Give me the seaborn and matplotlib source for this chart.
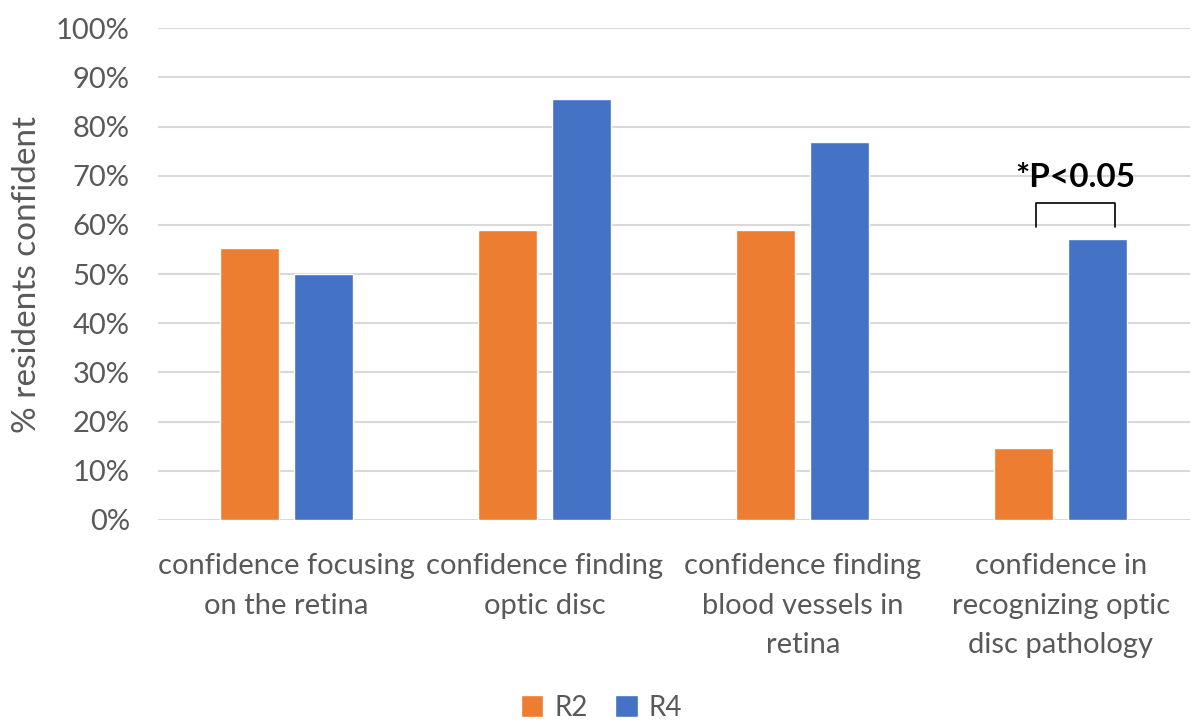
import pandas as pd
import matplotlib.pyplot as plt
import seaborn as sns
from matplotlib.ticker import PercentFormatter, MultipleLocator
from matplotlib.patches import Patch

# Values
categories = ['confidence focusing\non the retina',
              'confidence finding\noptic disc',
              'confidence finding\nblood vessels in\nretina',
              'confidence in\nrecognizing optic\ndisc pathology']
r2_values = [0.553, 0.589, 0.590, 0.147]
r4_values = [0.500, 0.856, 0.768, 0.571]
groups = ['R2', 'R4']
colors = ['#ED7D31', '#4472C4']

df = pd.DataFrame({
    'category': categories * 2,
    'group': ['R2'] * 4 + ['R4'] * 4,
    'value': r2_values + r4_values,
})

sns.set_style('white')
plt.rcParams['font.family'] = ['Lato', 'DejaVu Sans']
text_gray = '#595959'

fig = plt.figure(figsize=(12.03, 7.25), dpi=100)
ax = fig.add_axes([0.131, 0.283, 0.858, 0.678])

sns.barplot(data=df, x='category', y='value', hue='group', palette=colors,
            width=0.574, gap=0.2, ax=ax, legend=False, saturation=1)

ax.set_ylim(0, 1.0)
ax.set_xlim(-0.5, 3.5)
ax.yaxis.set_major_locator(MultipleLocator(0.1))
ax.yaxis.set_major_formatter(PercentFormatter(1.0, decimals=0))
ax.grid(axis='y', color='#D9D9D9', linewidth=1.5)
ax.set_axisbelow(True)
for s in ax.spines.values():
    s.set_visible(False)

ax.tick_params(axis='y', length=0, labelsize=21, labelcolor=text_gray, pad=20)
ax.tick_params(axis='x', length=0, labelsize=21, labelcolor=text_gray, pad=24)
ax.set_xticks(range(len(categories)))
ax.set_xticklabels(categories, linespacing=1.65, va='top')
ax.set_xlabel('')
ax.set_ylabel('% residents confident', fontsize=24, color=text_gray, labelpad=10)

# significance bracket on the last group
bx0, bx1 = 2.903, 3.209
by_low, by_high = 0.595, 0.644
ax.plot([bx0, bx0, bx1, bx1], [by_low, by_high, by_high, by_low],
        color='black', linewidth=1.2, solid_joinstyle='round')
ax.text((bx0 + bx1) / 2, 0.697, '*P<0.05', ha='center', va='center',
        fontsize=24, fontweight='bold', color='black')

handles = [Patch(facecolor=c, label=g) for c, g in zip(colors, groups)]
fig.legend(handles=handles, loc='center', bbox_to_anchor=(0.5, 0.024), ncol=2,
           frameon=False, fontsize=20, handlelength=0.8, handleheight=0.8,
           handletextpad=0.4, columnspacing=1.0, labelcolor=text_gray)

fig.savefig('out.png', dpi=100)
